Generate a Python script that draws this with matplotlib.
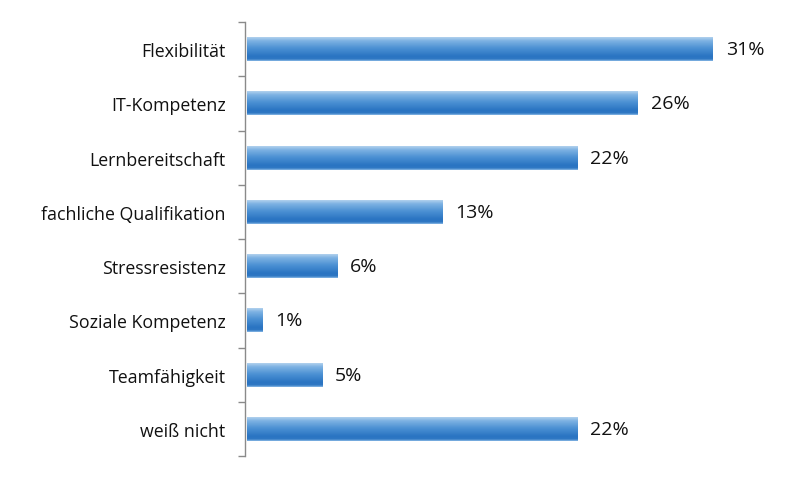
import matplotlib
matplotlib.use("Agg")
import matplotlib.pyplot as plt
import numpy as np
from matplotlib.colors import LinearSegmentedColormap

categories = ["Flexibilität", "IT-Kompetenz", "Lernbereitschaft", "fachliche Qualifikation",
              "Stressresistenz", "Soziale Kompetenz", "Teamfähigkeit", "weiß nicht"]
values = [31, 26, 22, 13, 6, 1, 5, 22]
value_labels = ["31%", "26%", "22%", "13%", "6%", "1%", "5%", "22%"]

plt.rcParams['font.family'] = ['Open Sans', 'DejaVu Sans']

fig = plt.figure(figsize=(8, 4.81), dpi=100)
ax = fig.add_axes([245/800, 24/481, 555/800, 434/481])

y = np.arange(len(categories))
bars = ax.barh(y, values, height=0.44, color='#4a8fd0', left=0)

cmap = LinearSegmentedColormap.from_list('g', [
    (0.0, '#b3d2ee'), (0.15, '#7fb3e3'), (0.45, '#4d92d4'),
    (0.8, '#2a74c2'), (0.92, '#2f78c4'), (1.0, '#8dbbe6')])
grad = np.linspace(0, 1, 256).reshape(-1, 1)
for b in bars:
    x0, y0 = b.get_x(), b.get_y()
    w, h = b.get_width(), b.get_height()
    im = ax.imshow(grad, cmap=cmap, aspect='auto',
                   extent=(x0, x0 + w, y0 + h, y0), zorder=3, interpolation='bilinear')
    im.set_clip_path(b)
    b.set_alpha(0)

for yi, v, lab in zip(y, values, value_labels):
    ax.text(v + 0.85, yi, lab, va='center', ha='left', fontsize=14, color='#111111')

ax.set_xlim(-0.13, 555/15.03 - 0.13)
ax.set_ylim(len(categories) - 0.5, -0.5)

ax.set_yticks(y)
ax.set_yticklabels(categories, fontsize=12.8, color='#111111')
ax.tick_params(axis='y', which='major', length=0, pad=14)
ax.set_yticks(np.arange(-0.5, len(categories), 1.0), minor=True)
ax.tick_params(axis='y', which='minor', length=5, color='#8a8a8a', width=1)
ax.set_xticks([])

for s in ['top', 'right', 'bottom']:
    ax.spines[s].set_visible(False)
ax.spines['left'].set_color('#8a8a8a')
ax.spines['left'].set_linewidth(1)

fig.savefig('out.png', dpi=100)
